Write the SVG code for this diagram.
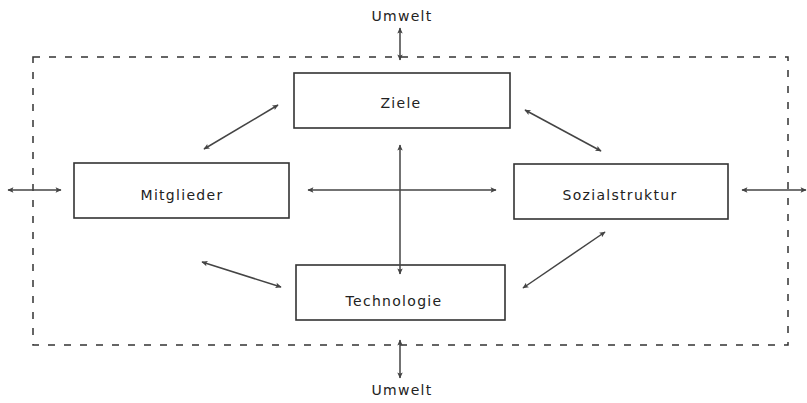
<svg xmlns="http://www.w3.org/2000/svg" width="807" height="403" viewBox="0 0 807 403">
<defs>
<marker id="ah" viewBox="0 0 10 10" refX="9" refY="5" markerWidth="8" markerHeight="6" orient="auto-start-reverse" markerUnits="userSpaceOnUse">
<path d="M0,0.5 L10,5 L0,9.5 L2,5 Z" fill="#444"/>
</marker>
<style>
.box{fill:#fff;stroke:#333;stroke-width:1.6}
.lbl{font-family:"DejaVu Sans","Liberation Sans",sans-serif;font-size:14px;letter-spacing:1.3px;fill:#222;text-anchor:middle}
.c{stroke:#444;stroke-width:1.5;fill:none;marker-start:url(#ah);marker-end:url(#ah)}
.env{fill:none;stroke:#333;stroke-width:1.5;stroke-dasharray:7 9}
</style>
</defs>
<rect class="env" x="33" y="57" width="755" height="288"/>
<g id="umwelt-top"><text class="lbl" x="402" y="21">Umwelt</text></g>
<g id="umwelt-bottom"><text class="lbl" x="402" y="395">Umwelt</text></g>
<g id="ziele"><rect class="box" x="294" y="73" width="216" height="55"/><text class="lbl" x="401" y="108">Ziele</text></g>
<g id="mitglieder"><rect class="box" x="74" y="163" width="215" height="55"/><text class="lbl" x="182" y="200">Mitglieder</text></g>
<g id="sozialstruktur"><rect class="box" x="514" y="164" width="214" height="55"/><text class="lbl" x="620" y="200">Sozialstruktur</text></g>
<g id="technologie"><rect class="box" x="296" y="265" width="209" height="55"/><text class="lbl" x="394" y="306">Technologie</text></g>
<g id="connectors">
<line class="c" x1="400" y1="28" x2="400" y2="60"/>
<line class="c" x1="400" y1="340" x2="400" y2="378"/>
<line class="c" x1="400" y1="145" x2="400" y2="274"/>
<line class="c" x1="308" y1="190" x2="496" y2="190"/>
<line class="c" x1="8" y1="190" x2="61" y2="190"/>
<line class="c" x1="742" y1="190" x2="806" y2="190"/>
<line class="c" x1="204" y1="149" x2="278" y2="105"/>
<line class="c" x1="525" y1="110" x2="601" y2="151"/>
<line class="c" x1="202" y1="262" x2="281" y2="287"/>
<line class="c" x1="523" y1="288" x2="605" y2="232"/>
</g>
</svg>
